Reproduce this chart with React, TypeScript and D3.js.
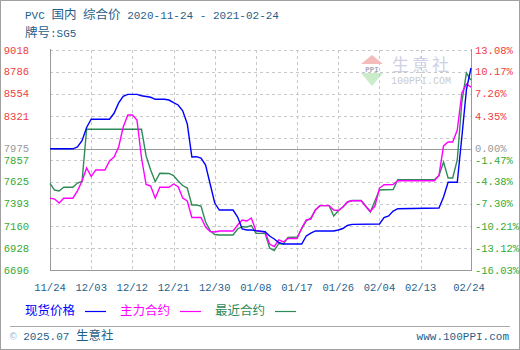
import React from "react";
import * as d3 from "d3";

// ---------- data ----------
const startDate = "2020-11-24";
const endDate = "2021-02-24";
const baseValue = 7975;

const xTickLabels = ["11/24", "12/03", "12/12", "12/21", "12/30", "01/08", "01/17", "01/26", "02/04", "02/13", "02/24"];
const xTickDates = ["2020-11-24", "2020-12-03", "2020-12-12", "2020-12-21", "2020-12-30", "2021-01-08", "2021-01-17", "2021-01-26", "2021-02-04", "2021-02-13", "2021-02-24"];

const yGridValues = [9018, 8786, 8554, 8321, 8089, 7857, 7625, 7393, 7160, 6928];
const yLeftValues = [9018, 8786, 8554, 8321, 7975, 7857, 7625, 7393, 7160, 6928, 6696];
const yRightLabels = ["13.08%", "10.17%", "7.26%", "4.35%", "0.00%", "-1.47%", "-4.38%", "-7.30%", "-10.21%", "-13.12%", "-16.03%"];

const seriesNames = ["现货价格", "主力合约", "最近合约"];

const spotSeries: [string, number][] = [
  ["2020-11-24", 7975], ["2020-11-29", 7975], ["2020-11-30", 7995], ["2020-12-01", 8060], ["2020-12-02", 8200],
  ["2020-12-03", 8287], ["2020-12-07", 8287], ["2020-12-08", 8350], ["2020-12-09", 8460], ["2020-12-10", 8530],
  ["2020-12-11", 8550], ["2020-12-13", 8550], ["2020-12-14", 8535], ["2020-12-16", 8519], ["2020-12-17", 8498],
  ["2020-12-19", 8498], ["2020-12-20", 8490], ["2020-12-21", 8462], ["2020-12-22", 8438], ["2020-12-23", 8377],
  ["2020-12-24", 8237], ["2020-12-25", 7889], ["2020-12-26", 7892], ["2020-12-27", 7878], ["2020-12-28", 7804],
  ["2020-12-29", 7604], ["2020-12-30", 7403], ["2020-12-31", 7329], ["2021-01-03", 7329], ["2021-01-04", 7255],
  ["2021-01-05", 7129], ["2021-01-06", 7118], ["2021-01-07", 7118], ["2021-01-08", 7111], ["2021-01-10", 7100],
  ["2021-01-11", 7055], ["2021-01-12", 7023], ["2021-01-13", 6986], ["2021-01-14", 6970], ["2021-01-18", 6970],
  ["2021-01-19", 7055], ["2021-01-20", 7086], ["2021-01-21", 7108], ["2021-01-25", 7108], ["2021-01-26", 7118],
  ["2021-01-27", 7134], ["2021-01-28", 7166], ["2021-01-29", 7178], ["2021-02-04", 7182], ["2021-02-05", 7250],
  ["2021-02-06", 7266], ["2021-02-07", 7318], ["2021-02-08", 7343], ["2021-02-17", 7350], ["2021-02-18", 7466],
  ["2021-02-19", 7622], ["2021-02-21", 7622], ["2021-02-22", 8100], ["2021-02-23", 8600], ["2021-02-24", 8828],
];

const mainSeries: [string, number][] = [
  ["2020-11-24", 7454], ["2020-11-25", 7445], ["2020-11-26", 7403], ["2020-11-27", 7454], ["2020-11-29", 7454],
  ["2020-11-30", 7530], ["2020-12-01", 7636], ["2020-12-02", 7773], ["2020-12-03", 7683], ["2020-12-04", 7752],
  ["2020-12-06", 7752], ["2020-12-07", 7847], ["2020-12-08", 7889], ["2020-12-09", 7994], ["2020-12-10", 8205],
  ["2020-12-11", 8332], ["2020-12-12", 8332], ["2020-12-13", 8279], ["2020-12-14", 7878], ["2020-12-15", 7598],
  ["2020-12-16", 7583], ["2020-12-17", 7454], ["2020-12-18", 7569], ["2020-12-20", 7569], ["2020-12-21", 7604],
  ["2020-12-22", 7575], ["2020-12-23", 7456], ["2020-12-24", 7424], ["2020-12-25", 7250], ["2020-12-27", 7250],
  ["2020-12-28", 7150], ["2020-12-29", 7102], ["2020-12-30", 7097], ["2020-12-31", 7108], ["2021-01-03", 7108],
  ["2021-01-04", 7171], ["2021-01-05", 7224], ["2021-01-06", 7213], ["2021-01-07", 7245], ["2021-01-08", 7108],
  ["2021-01-10", 7097], ["2021-01-11", 6970], ["2021-01-12", 6944], ["2021-01-13", 7013], ["2021-01-14", 6992],
  ["2021-01-15", 7029], ["2021-01-17", 7029], ["2021-01-18", 7139], ["2021-01-19", 7224], ["2021-01-20", 7234],
  ["2021-01-21", 7329], ["2021-01-22", 7375], ["2021-01-24", 7375], ["2021-01-25", 7329], ["2021-01-26", 7324],
  ["2021-01-27", 7361], ["2021-01-28", 7414], ["2021-01-29", 7427], ["2021-01-31", 7427], ["2021-02-01", 7366],
  ["2021-02-02", 7315], ["2021-02-03", 7371], ["2021-02-04", 7561], ["2021-02-05", 7596], ["2021-02-07", 7598],
  ["2021-02-08", 7638], ["2021-02-16", 7638], ["2021-02-17", 7695], ["2021-02-18", 8005], ["2021-02-19", 8047],
  ["2021-02-20", 8047], ["2021-02-21", 8174], ["2021-02-22", 8564], ["2021-02-23", 8659], ["2021-02-24", 8627],
];

const nearSeries: [string, number][] = [
  ["2020-11-24", 7611], ["2020-11-25", 7540], ["2020-11-26", 7530], ["2020-11-27", 7569], ["2020-11-29", 7569],
  ["2020-11-30", 7614], ["2020-12-01", 7630], ["2020-12-02", 8181], ["2020-12-14", 8181], ["2020-12-15", 7900],
  ["2020-12-16", 7752], ["2020-12-17", 7628], ["2020-12-18", 7717], ["2020-12-20", 7715], ["2020-12-21", 7693],
  ["2020-12-22", 7635], ["2020-12-23", 7588], ["2020-12-24", 7561], ["2020-12-25", 7382], ["2020-12-26", 7382],
  ["2020-12-27", 7371], ["2020-12-28", 7203], ["2020-12-29", 7111], ["2020-12-30", 7071], ["2020-12-31", 7065],
  ["2021-01-03", 7065], ["2021-01-04", 7129], ["2021-01-05", 7153], ["2021-01-06", 7150], ["2021-01-07", 7166],
  ["2021-01-08", 7083], ["2021-01-10", 7083], ["2021-01-11", 6928], ["2021-01-12", 6902], ["2021-01-13", 6976],
  ["2021-01-14", 6970], ["2021-01-15", 7039], ["2021-01-16", 7041], ["2021-01-17", 7044], ["2021-01-18", 7129],
  ["2021-01-19", 7213], ["2021-01-20", 7245], ["2021-01-21", 7329], ["2021-01-22", 7375], ["2021-01-24", 7375],
  ["2021-01-25", 7266], ["2021-01-26", 7322], ["2021-01-27", 7361], ["2021-01-28", 7414], ["2021-01-29", 7429],
  ["2021-01-31", 7429], ["2021-02-01", 7371], ["2021-02-02", 7308], ["2021-02-03", 7424], ["2021-02-04", 7540],
  ["2021-02-05", 7543], ["2021-02-07", 7545], ["2021-02-08", 7649], ["2021-02-16", 7649], ["2021-02-17", 7693],
  ["2021-02-18", 7836], ["2021-02-19", 7667], ["2021-02-20", 7667], ["2021-02-21", 7857], ["2021-02-22", 8469],
  ["2021-02-23", 8775], ["2021-02-24", 8701],
];

// ---------- styles ----------
const W = 520;
const H = 350;
const M = { left: 50, right: 471, top: 50, bottom: 270 };
const MONO = "'Liberation Mono', 'DejaVu Sans Mono', monospace";
const CJK = "'Noto Sans CJK SC', sans-serif";
const TEAL = "#1f5f8b";
const RED = "#f03c3c";
const GREEN = "#33aa33";
const GRAY = "#999999";
const COLORS = ["#0000ff", "#ff00ff", "#2e8b57"];

const parse = d3.timeParse("%Y-%m-%d");

export default function App() {
  const x = d3.scaleTime().domain([parse(startDate)!, parse(endDate)!]).range([M.left, M.right]);
  const y = d3.scaleLinear().domain([6696, 9018]).range([M.bottom, M.top]);
  const line = d3
    .line<[string, number]>()
    .x((d) => x(parse(d[0])!))
    .y((d) => y(d[1]));

  const series = [nearSeries, mainSeries, spotSeries];
  const seriesColors = [COLORS[2], COLORS[1], COLORS[0]];

  const labelColor = (v: number) => (v > baseValue ? RED : v < baseValue ? GREEN : GRAY);

  return (
    <svg
      width={W}
      height={H}
      viewBox={`0 0 ${W} ${H}`}
      style={{ position: "absolute", left: 0, top: 0, background: "#fff" }}
    >
      <rect x={0.5} y={0.5} width={W - 1} height={H - 1} fill="#fff" stroke="#a0a0a0" />

      {/* title */}
      <text x={25} y={19} fill={TEAL} fontSize={11} fontFamily={MONO}>
        <tspan>PVC </tspan>
        <tspan fontFamily={CJK} fontSize={12.5}>国内</tspan>
        <tspan> </tspan>
        <tspan fontFamily={CJK} fontSize={12.5}>综合价</tspan>
        <tspan>{` ${startDate} - ${endDate}`}</tspan>
      </text>
      <text x={25} y={37} fill={TEAL} fontSize={11} fontFamily={MONO}>
        <tspan fontFamily={CJK} fontSize={12.5}>牌号</tspan>
        <tspan>:SG5</tspan>
      </text>

      {/* watermark */}
      <g opacity={0.9}>
        <polygon points="361,64 372,55 383,64" fill="#f5b5b5" />
        <polygon points="361,73 383,73 372,86" fill="#c5eac5" />
        <text x={372} y={71.5} textAnchor="middle" fontSize={7.5} fontWeight="bold" fontFamily={MONO} fill="#9aa0b5">
          PPI
        </text>
        <text x={392} y={71} fontSize={17} fontFamily={CJK} fill="#c9cde0" letterSpacing={3}>
          生意社
        </text>
        <text x={391} y={83.5} fontSize={10} fontFamily={MONO} fill="#c6c6c6">
          100PPI.COM
        </text>
      </g>

      {/* grid */}
      {yGridValues.map((v) => (
        <line
          key={"hg" + v}
          x1={M.left}
          x2={M.right}
          y1={Math.round(y(v)) + 0.5}
          y2={Math.round(y(v)) + 0.5}
          stroke="#c8c8c8"
          strokeDasharray="3,3"
        />
      ))}
      {xTickDates.slice(1, -1).map((d) => (
        <line
          key={"vg" + d}
          x1={Math.round(x(parse(d)!)) + 0.5}
          x2={Math.round(x(parse(d)!)) + 0.5}
          y1={M.top}
          y2={M.bottom}
          stroke="#c8c8c8"
          strokeDasharray="3,3"
        />
      ))}
      <line x1={M.left} x2={M.right} y1={Math.round(y(baseValue)) + 0.5} y2={Math.round(y(baseValue)) + 0.5} stroke={GRAY} />

      {/* frame */}
      <line x1={M.left + 0.5} x2={M.left + 0.5} y1={M.top - 1} y2={M.bottom} stroke={GRAY} />
      <line x1={M.right + 0.5} x2={M.right + 0.5} y1={M.top - 1} y2={M.bottom} stroke={GRAY} />
      <line x1={M.left} x2={M.right + 1} y1={M.bottom + 0.5} y2={M.bottom + 0.5} stroke={GRAY} />

      {/* series */}
      {series.map((s, i) => (
        <path key={"s" + i} d={line(s) || ""} fill="none" stroke={seriesColors[i]} strokeWidth={1.4} />
      ))}

      {/* left y labels */}
      {yLeftValues.map((v) => (
        <text
          key={"yl" + v}
          x={29}
          y={y(v) + 3.5}
          textAnchor="end"
          fontSize={10.5}
          fontFamily={MONO}
          fill={labelColor(v)}
        >
          {v}
        </text>
      ))}
      {/* right y labels */}
      {yLeftValues.map((v, i) => (
        <text
          key={"yr" + v}
          x={475}
          y={y(v) + 3.5}
          fontSize={10.5}
          fontFamily={MONO}
          fill={labelColor(v)}
        >
          {yRightLabels[i]}
        </text>
      ))}

      {/* x labels */}
      {xTickDates.map((d, i) => (
        <text
          key={"xl" + d}
          x={i === xTickDates.length - 1 ? x(parse(d)!) - 2 : x(parse(d)!)}
          y={291}
          textAnchor="middle"
          fontSize={10.5}
          fontFamily={MONO}
          fill={TEAL}
        >
          {xTickLabels[i]}
        </text>
      ))}

      {/* legend */}
      {seriesNames.map((name, i) => {
        const lx = 25 + i * 95;
        return (
          <g key={"lg" + name}>
            <text x={lx} y={315} fontSize={12.5} fontFamily={CJK} fill={COLORS[i]}>
              {name}
            </text>
            <line x1={lx + 60} x2={lx + 81} y1={311.5} y2={311.5} stroke={COLORS[i]} strokeWidth={1.2} />
          </g>
        );
      })}

      {/* footer */}
      <line x1={10} x2={510} y1={326.5} y2={326.5} stroke="#aaaaaa" />
      <text x={10} y={340} fontSize={11} fontFamily={MONO} fill={TEAL}>
        <tspan fill="#9fb3c8">©</tspan>
        <tspan> 2025.07 </tspan>
        <tspan fontFamily={CJK} fontSize={12.5}>生意社</tspan>
      </text>
      <text x={509} y={340} textAnchor="end" fontSize={11} fontFamily={MONO} fill={TEAL}>
        www.100PPI.com
      </text>
    </svg>
  );
}
